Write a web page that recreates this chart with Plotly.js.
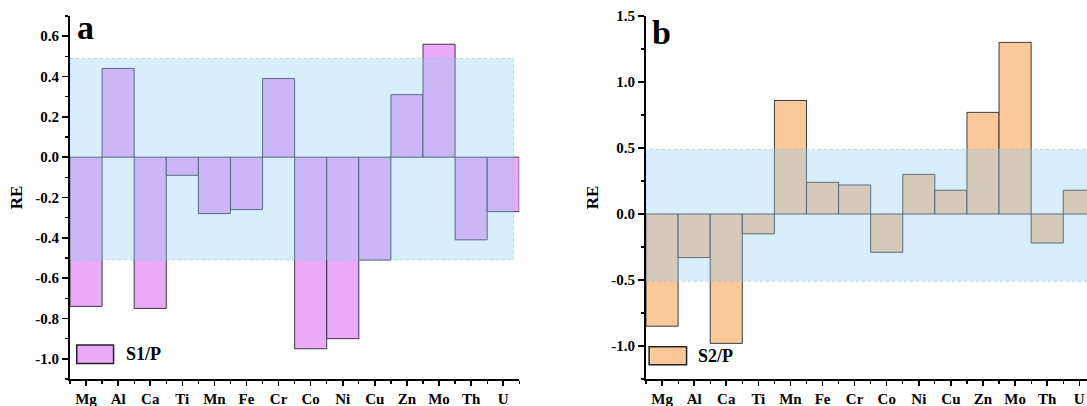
<!DOCTYPE html>
<html>
<head>
<meta charset="utf-8">
<script src="https://cdn.plot.ly/plotly-3.0.1.min.js"></script>
<style>html,body{margin:0;padding:0;background:#fff;overflow:hidden;}#chart{width:1087px;height:406px;}</style>
</head>
<body>
<div id="chart"></div>
<script>
// ---- data ----
const categories = ['Mg','Al','Ca','Ti','Mn','Fe','Cr','Co','Ni','Cu','Zn','Mo','Th','U'];
const s1pValues = [-0.74, 0.44, -0.75, -0.09, -0.28, -0.26, 0.39, -0.95, -0.90, -0.51, 0.31, 0.56, -0.41, -0.27];
const s2pValues = [-0.85, -0.33, -0.98, -0.15, 0.86, 0.24, 0.22, -0.29, 0.30, 0.18, 0.77, 1.30, -0.22, 0.18];
const seriesNames = ['S1/P', 'S2/P'];
const panelLabels = ['a', 'b'];
const yTickValsA = [-1.0, -0.8, -0.6, -0.4, -0.2, 0.0, 0.2, 0.4, 0.6];
const yTickValsB = [-1.0, -0.5, 0.0, 0.5, 1.0, 1.5];
const bandLow = -0.51, bandHigh = 0.49;
const yTitle = 'RE';

// ---- style ----
const FONT = 'Liberation Serif, Times New Roman, serif';
const pink = '#EBAAF9', orange = '#FBC899';
const barLine = {color: 'rgba(40,40,50,0.9)', width: 1};
const bandFill = 'rgba(144,206,246,0.35)';
const fmt = v => v.toFixed(1).replace('\u2212', '-');

const xIdx = categories.map((c, i) => i);

const traces = [
  {type: 'bar', x: xIdx, y: s1pValues, name: seriesNames[0], width: 1,
   marker: {color: pink, line: barLine}, xaxis: 'x', yaxis: 'y', showlegend: false,
   hovertext: categories},
  {type: 'bar', x: xIdx, y: s2pValues, name: seriesNames[1], width: 1,
   marker: {color: orange, line: barLine}, xaxis: 'x2', yaxis: 'y2', showlegend: false,
   hovertext: categories}
];

const tickFont = {family: FONT, size: 15, color: '#000', weight: 'bold'};
function xAxis(domain, range, anchor) {
  return {
    domain: domain, range: range, anchor: anchor,
    tickvals: xIdx, ticktext: categories, tickfont: tickFont,
    ticks: 'outside', ticklen: 5, tickwidth: 1.5, tickcolor: '#000',
    minor: {tick0: 0.5, dtick: 1, ticks: 'outside', ticklen: 3, tickwidth: 1.2, tickcolor: '#000', showgrid: false},
    showline: true, linewidth: 2, linecolor: '#000', showgrid: false, zeroline: false,
    fixedrange: true
  };
}
function yAxis(range, vals, minorDtick, anchor) {
  return {
    range: range, anchor: anchor,
    tickvals: vals, ticktext: vals.map(fmt), tickfont: tickFont,
    ticks: 'outside', ticklen: 6, tickwidth: 1.5, tickcolor: '#000',
    minor: {tick0: 0, dtick: minorDtick, ticks: 'outside', ticklen: 3, tickwidth: 1.2, tickcolor: '#000', showgrid: false},
    showline: true, linewidth: 2, linecolor: '#000', showgrid: false, zeroline: false,
    title: {text: yTitle, font: {family: FONT, size: 17, color: '#000', weight: 'bold'}, standoff: 8},
    fixedrange: true
  };
}

const bandLine = {color: 'rgba(150,185,210,0.55)', width: 1, dash: 'dot'};
const shapes = [
  {type: 'rect', xref: 'x', yref: 'y', x0: -0.5, x1: 13.32, y0: bandLow, y1: bandHigh,
   fillcolor: bandFill, line: bandLine, layer: 'above'},
  {type: 'rect', xref: 'x2', yref: 'y2', x0: -0.5, x1: 14, y0: bandLow, y1: bandHigh,
   fillcolor: bandFill, line: bandLine, layer: 'above'},
  // legend swatches
  {type: 'rect', xref: 'x domain', yref: 'y domain', x0: 0.015, x1: 0.097, y0: 0.043, y1: 0.094,
   fillcolor: pink, line: {color: '#222', width: 1.5}},
  {type: 'rect', xref: 'x2 domain', yref: 'y2 domain', x0: 0.007, x1: 0.092, y0: 0.039, y1: 0.089,
   fillcolor: orange, line: {color: '#222', width: 1.5}}
];

const annotations = [
  {xref: 'x domain', yref: 'y domain', x: 0.12, y: 0.069, xanchor: 'left', yanchor: 'middle',
   text: seriesNames[0], showarrow: false, font: {family: FONT, size: 18, color: '#000', weight: 'bold'}},
  {xref: 'x2 domain', yref: 'y2 domain', x: 0.113, y: 0.064, xanchor: 'left', yanchor: 'middle',
   text: seriesNames[1], showarrow: false, font: {family: FONT, size: 18, color: '#000', weight: 'bold'}},
  {xref: 'x domain', yref: 'y domain', x: 0.012, y: 1.025, xanchor: 'left', yanchor: 'top',
   text: panelLabels[0], showarrow: false, font: {family: FONT, size: 34, color: '#000', weight: 'bold'}},
  {xref: 'x2 domain', yref: 'y2 domain', x: 0.008, y: 1.01, xanchor: 'left', yanchor: 'top',
   text: panelLabels[1], showarrow: false, font: {family: FONT, size: 34, color: '#000', weight: 'bold'}}
];

const layout = {
  width: 1087, height: 406,
  margin: {l: 0, r: 0, t: 16, b: 27, pad: 0},
  paper_bgcolor: '#fff', plot_bgcolor: 'rgba(0,0,0,0)',
  bargap: 0, showlegend: false,
  font: {family: FONT, color: '#000'},
  xaxis: xAxis([0.0644, 0.4777], [-0.5, 13.5], 'y'),
  yaxis: yAxis([-1.1, 0.7], yTickValsA, 0.1, 'x'),
  xaxis2: xAxis([0.5943, 1.0], [-0.5, 13.24], 'y2'),
  yaxis2: yAxis([-1.25, 1.5], yTickValsB, 0.25, 'x2'),
  shapes: shapes,
  annotations: annotations
};

Plotly.newPlot('chart', traces, layout, {displayModeBar: false, staticPlot: true});
</script>
</body>
</html>
